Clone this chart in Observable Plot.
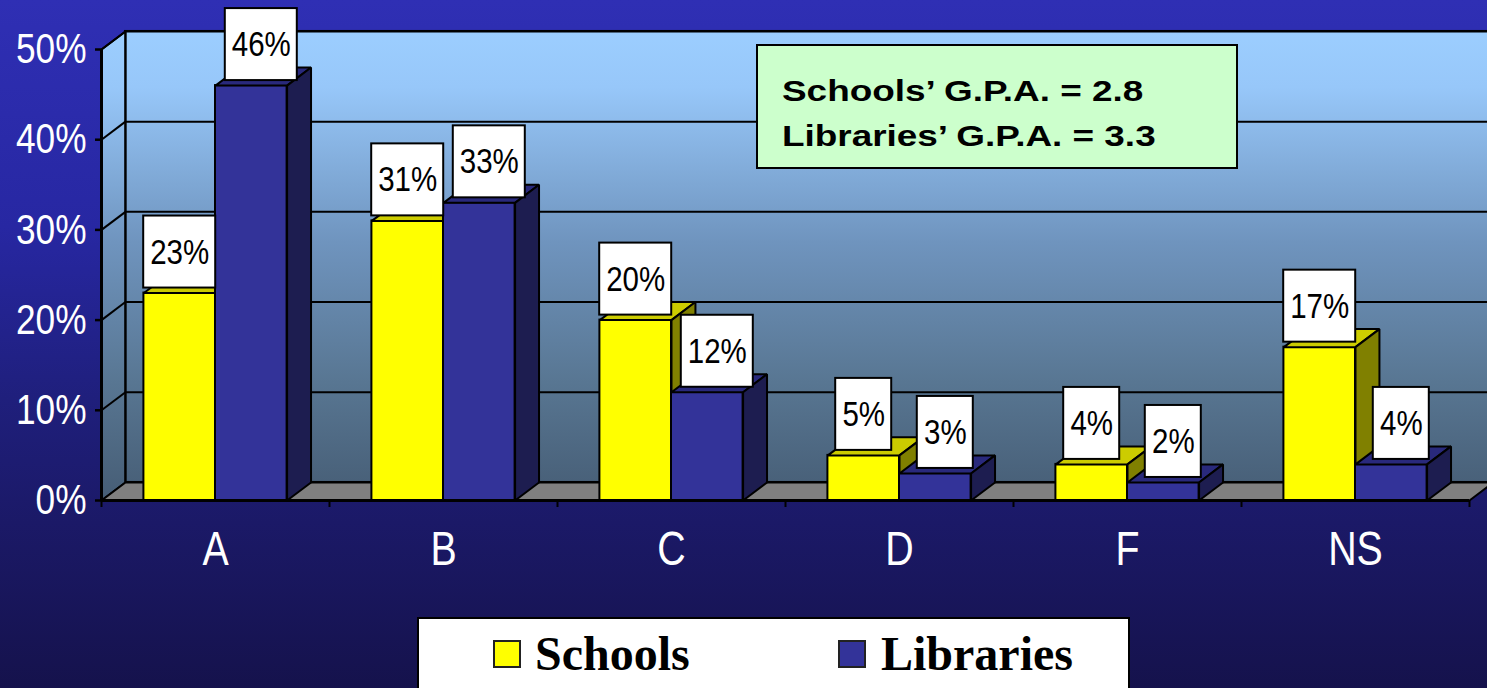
<!DOCTYPE html>
<html>
<head>
<meta charset="utf-8">
<script src="https://cdn.jsdelivr.net/npm/d3@7"></script>
<script src="https://cdn.jsdelivr.net/npm/@observablehq/plot@0.6"></script>
<style>
html,body{margin:0;padding:0;}
body{width:1487px;height:688px;overflow:hidden;position:relative;
  background:linear-gradient(to bottom,#2F2FB4 0%,#2727A2 33%,#1F1F7C 58%,#1B1967 76%,#15124C 100%);}
#chart svg{display:block;overflow:hidden;}
#gpa{position:absolute;left:756px;top:44px;width:478px;height:121px;background:#CCFFCC;border:2px solid #000;}
#gpa span{position:absolute;left:24px;font:bold 30px "Liberation Sans",Arial,sans-serif;line-height:30px;white-space:nowrap;transform-origin:0 50%;transform:scaleX(1.23);color:#000;}
#legend{position:absolute;left:417px;top:617px;width:709px;height:90px;background:#fff;border:2px solid #000;}
#legend .sw{position:absolute;top:21px;width:24px;height:24px;border:2px solid #222;}
#legend .lb{position:absolute;top:11px;font:bold 48px "Liberation Serif","Times New Roman",serif;line-height:48px;white-space:nowrap;color:#000;}
</style>
</head>
<body>
<div id="chart"></div>
<div id="gpa"><span id="g1" style="top:30px"></span><span id="g2" style="top:75px"></span></div>
<div id="legend"></div>
<script>
// ---- data ----
const categories = ["A", "B", "C", "D", "F", "NS"];
const schools = [23, 31, 20, 5, 4, 17];
const libraries = [46, 33, 12, 3, 2, 4];
const yTicks = [0, 10, 20, 30, 40, 50];
const seriesNames = ["Schools", "Libraries"];
const gpaLines = ["Schools\u2019 G.P.A. = 2.8", "Libraries\u2019 G.P.A. = 3.3"];

// ---- styling / geometry constants ----
const colors = {
  Schools: {front: "#FFFF00", top: "#CCCC00", side: "#808000"},
  Libraries: {front: "#333399", top: "#29297C", side: "#1D1D50"}
};
const W = 0.314;   // bar width in category units
const D = 0.105;   // depth offset along x (category units)
const DY = 2;      // depth offset along y (percent units)
const CONDENSE = 0.82; // horizontal compression to imitate a narrow face
const narrow = '"Liberation Sans",Arial,sans-serif';

const bars = [];
categories.forEach((c, i) => {
  bars.push({series: "Schools", i, v: schools[i], x1: i + 0.5 - W, x2: i + 0.5});
  bars.push({series: "Libraries", i, v: libraries[i], x1: i + 0.5, x2: i + 0.5 + W});
});
const poly = (id, pts) => pts.map(([x, y]) => ({id, x, y}));
const topFaces = s => bars.filter(b => b.series === s).flatMap(b =>
  poly(s + b.i, [[b.x1, b.v], [b.x2, b.v], [b.x2 + D, b.v + DY], [b.x1 + D, b.v + DY]]));
const sideFaces = s => bars.filter(b => b.series === s).flatMap(b =>
  poly(s + b.i, [[b.x2, 0], [b.x2, b.v], [b.x2 + D, b.v + DY], [b.x2 + D, DY]]));

const polyMark = (data, fill, extra = {}) => Plot.line(data, {
  x: "x", y: "y", z: "id", curve: "linear-closed", fill, stroke: "black",
  strokeWidth: 2, strokeLinejoin: "miter", ...extra
});

function barMarks(s) {
  const data = bars.filter(b => b.series === s);
  return [
    Plot.rect(data, {x1: "x1", x2: "x2", y1: 0, y2: "v", fill: colors[s].front, stroke: "black", strokeWidth: 2}),
    polyMark(topFaces(s), colors[s].top),
    polyMark(sideFaces(s), colors[s].side)
  ];
}

function labelMarks(s, dx) {
  const data = bars.filter(b => b.series === s).map(b => ({cx: (b.x1 + b.x2) / 2, v: b.v, t: b.v + "%"}));
  const marks = [];
  for (const [len, half] of [[3, 36], [2, 28]]) {
    const sub = data.filter(d => d.t.length === len);
    marks.push(Plot.rect(sub, {
      x1: "cx", x2: "cx", y1: "v", y2: "v", dx,
      insetLeft: -half, insetRight: -half, insetTop: -77, insetBottom: 5,
      fill: "white", stroke: "black", strokeWidth: 2
    }));
  }
  marks.push(Plot.text(data, {x: "cx", y: "v", text: "t", dx, dy: -41, fontSize: 36, fill: "black", fontFamily: narrow}));
  return marks;
}

const sideWall = poly("side", [[0, 0], [0, 50], [D, 50 + DY], [D, DY]]);
const floor = poly("floor", [[0, 0], [categories.length, 0], [categories.length + D, DY], [D, DY]]);
const bounds = d3.range(categories.length + 1);

const chart = Plot.plot({
  width: 1487,
  height: 605,
  marginLeft: 101,
  marginRight: 18,
  marginTop: 49,
  marginBottom: 105,
  style: {background: "transparent", fontFamily: narrow, overflow: "hidden"},
  x: {domain: [0, categories.length]},
  y: {domain: [0, 50]},
  marks: [
    // back wall
    Plot.rect([0], {x1: () => D, x2: () => categories.length + D, y1: () => DY, y2: () => 50 + DY, fill: "url(#wallGrad)", stroke: "black", strokeWidth: 2}),
    // side wall
    polyMark(sideWall, "url(#wallGrad)"),
    // gridlines on back wall
    Plot.ruleY(yTicks.slice(1), {y: t => t + DY, x1: () => D, x2: () => categories.length + D, stroke: "black", strokeWidth: 2}),
    // gridlines on side wall
    Plot.link(yTicks.slice(1), {x1: () => 0, y1: t => t, x2: () => D, y2: t => t + DY, stroke: "black", strokeWidth: 2}),
    Plot.ruleX([D], {x: d => d, y1: DY, y2: 50 + DY, stroke: "black", strokeWidth: 2}),
    // floor
    polyMark(floor, "#808080"),
    // bars
    ...barMarks("Schools"),
    ...barMarks("Libraries"),
    // axis lines & ticks
    Plot.ruleY([0], {y: d => d, x1: 0, x2: categories.length, stroke: "black", strokeWidth: 3}),
    Plot.ruleX([0], {x: d => d, y1: 0, y2: 50, stroke: "black", strokeWidth: 3}),
    Plot.ruleX(bounds, {x: d => d, y1: 0, y2: 0, insetBottom: -7, stroke: "black", strokeWidth: 2}),
    Plot.axisY({ticks: yTicks, tickFormat: d => d + "%", tickSize: 6, tickPadding: 9, fontSize: 43, fill: "white", stroke: "black", strokeWidth: 2.5, label: null}),
    Plot.axisX({ticks: categories.map((c, i) => i + 0.5), tickFormat: d => categories[Math.floor(d)], tickSize: 0, tickPadding: 30, fontSize: 48, fill: "white", label: null}),
    // labels
    ...labelMarks("Schools", 0),
    ...labelMarks("Libraries", 10)
  ]
});

// condense all chart text horizontally around its own anchor
chart.querySelectorAll("text").forEach(t => {
  const x = +(t.getAttribute("x") || 0);
  const tr = t.getAttribute("transform") || "";
  t.setAttribute("transform", `${tr} translate(${x},0) scale(${CONDENSE},1) translate(${-x},0)`.trim());
});

// gradient definition for the walls
const ns = "http://www.w3.org/2000/svg";
const defs = document.createElementNS(ns, "defs");
const lg = document.createElementNS(ns, "linearGradient");
lg.setAttribute("id", "wallGrad");
lg.setAttribute("gradientUnits", "userSpaceOnUse");
lg.setAttribute("x1", "0"); lg.setAttribute("x2", "0");
lg.setAttribute("y1", "31"); lg.setAttribute("y2", "500");
[[0, "#9CCEFF"], [0.12, "#97C7F9"], [0.45, "#6F94BE"], [0.75, "#587692"], [1, "#465D75"]].forEach(([o, c]) => {
  const st = document.createElementNS(ns, "stop");
  st.setAttribute("offset", o);
  st.setAttribute("stop-color", c);
  lg.appendChild(st);
});
defs.appendChild(lg);
chart.insertBefore(defs, chart.firstChild);
document.getElementById("chart").appendChild(chart);

// G.P.A. box
document.getElementById("g1").textContent = gpaLines[0];
document.getElementById("g2").textContent = gpaLines[1];

// legend
const legend = document.getElementById("legend");
const legendPos = [{sw: 74, lb: 116}, {sw: 419, lb: 462}];
seriesNames.forEach((s, k) => {
  const sw = document.createElement("div");
  sw.className = "sw";
  sw.style.left = legendPos[k].sw + "px";
  sw.style.background = colors[s].front;
  legend.appendChild(sw);
  const lb = document.createElement("div");
  lb.className = "lb";
  lb.style.left = legendPos[k].lb + "px";
  lb.textContent = s;
  legend.appendChild(lb);
});
</script>
</body>
</html>
